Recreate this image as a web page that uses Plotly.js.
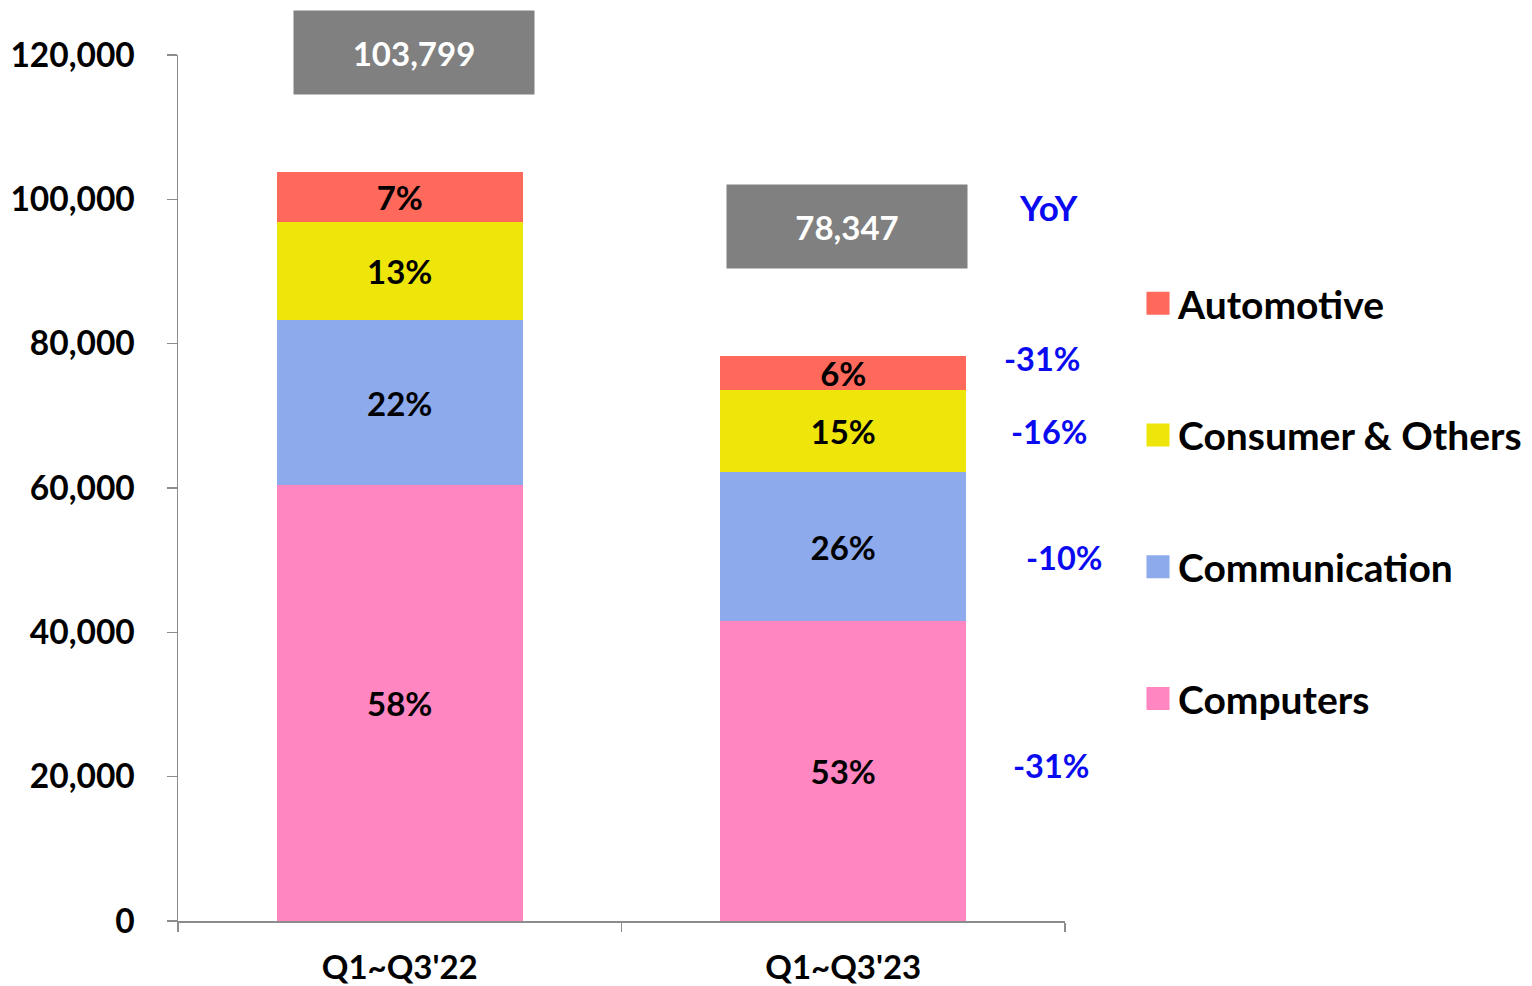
<!DOCTYPE html>
<html>
<head>
<meta charset="utf-8">
<script src="https://cdn.plot.ly/plotly-3.0.1.min.js"></script>
<style>html,body{margin:0;padding:0;background:#fff;}#chart{width:1532px;height:986px;}</style>
</head>
<body>
<div id="chart"></div>
<script>
// ---- data ----
const categories = ["Q1~Q3'22", "Q1~Q3'23"];
const seriesNames = ["Computers", "Communication", "Consumer & Others", "Automotive"];
const computers = [60400, 41550];
const communication = [22850, 20600];
const consumer = [13600, 11400];
const automotive = [6949, 4797];
const yTickVals = [0, 20000, 40000, 60000, 80000, 100000, 120000];
const yTickText = ["0", "20,000", "40,000", "60,000", "80,000", "100,000", "120,000"];

// ---- styles ----
const colors = ["#FF86C1", "#8CAAEC", "#EEE60A", "#FF695C"];
const FONT = "Lato, 'Open Sans', sans-serif";
const series = [computers, communication, consumer, automotive];
const totals = categories.map((c, i) => series.reduce((s, a) => s + a[i], 0));

const traces = series.map((vals, k) => ({
  type: 'bar',
  name: seriesNames[k],
  x: categories,
  y: vals,
  legendgroup: 'g' + k,
  legendrank: 10 - k,
  marker: {color: colors[k], line: {width: 0}},
  text: vals.map((v, i) => Math.round(v / totals[i] * 100) + '%'),
  textposition: 'inside',
  insidetextanchor: 'middle',
  textangle: 0,
  constraintext: 'none',
  insidetextfont: {family: FONT, size: 33, color: '#000', weight: 'bold'},
  hoverinfo: 'x+y+name'
}));

const annotations = [];
// total boxes
const totalShift = [[14, 77], [4, 87]];
totals.forEach((t, i) => {
  annotations.push({
    x: categories[i], y: t, xref: 'x', yref: 'y',
    xanchor: 'center', yanchor: 'bottom',
    xshift: totalShift[i][0], yshift: totalShift[i][1],
    text: t.toLocaleString('en-US'),
    showarrow: false,
    bgcolor: '#808080', width: 240, height: 83, borderpad: 0, valign: 'middle',
    font: {family: FONT, size: 33, color: '#fff', weight: 'bold'}
  });
});
// YoY labels
const yoyX = [1051, 1064, 1049, 1042];
const yoyShift = [6, -11, 0, 14];
let base = 0;
series.forEach((vals, k) => {
  const mid = base + vals[1] / 2;
  base += vals[1];
  const pct = Math.round((vals[1] / vals[0] - 1) * 100);
  annotations.push({
    x: (yoyX[k] - 178) / 887, xref: 'paper', y: mid, yref: 'y', yshift: yoyShift[k],
    text: (pct > 0 ? '+' : '') + pct + '%', showarrow: false,
    xanchor: 'center', yanchor: 'middle',
    font: {family: FONT, size: 32.5, color: '#0A0AF0', weight: 'bold'}
  });
});
annotations.push({
  x: (1048 - 178) / 887, xref: 'paper', y: (921 - 207) / 866, yref: 'paper',
  text: 'YoY', showarrow: false, xanchor: 'center', yanchor: 'middle',
  font: {family: FONT, size: 35, color: '#0A0AF0', weight: 'bold'}
});

const layout = {
  width: 1532, height: 986,
  margin: {l: 178, r: 467, t: 55, b: 65, autoexpand: false},
  paper_bgcolor: '#fff', plot_bgcolor: '#fff',
  barmode: 'stack',
  bargap: 0.445,
  showlegend: true,
  legend: {
    x: (1138 - 178) / 887, xanchor: 'left', y: 0.75, yanchor: 'top',
    traceorder: 'grouped', tracegroupgap: 78,
    font: {family: FONT, size: 39, color: '#000', weight: 'bold'},
    bgcolor: 'rgba(0,0,0,0)', borderwidth: 0
  },
  xaxis: {
    type: 'category', showline: true, linecolor: '#8c8c8c', linewidth: 2,
    ticks: 'outside', tickson: 'boundaries', ticklen: 9, tickcolor: '#8c8c8c', tickwidth: 1.5,
    tickfont: {family: FONT, size: 33, color: '#000', weight: 'bold'},
    ticklabelstandoff: 16, showgrid: false, zeroline: false
  },
  yaxis: {
    range: [0, 120000], showline: true, linecolor: '#8c8c8c', linewidth: 1.5,
    ticks: 'outside', ticklen: 10, tickcolor: '#8c8c8c', tickwidth: 1.5,
    tickvals: yTickVals, ticktext: yTickText,
    tickfont: {family: FONT, size: 33.5, color: '#000', weight: 'bold'},
    ticklabelstandoff: 25, showgrid: false, zeroline: false
  },
  annotations: annotations
};

Plotly.newPlot('chart', traces, layout, {displayModeBar: false, staticPlot: true}).then(gd => {
  gd.querySelectorAll('.legend .legendpoints path').forEach(p => {
    const t = p.getAttribute('transform') || '';
    p.setAttribute('transform', t + ' scale(1.92)');
  });
});
</script>
</body>
</html>
